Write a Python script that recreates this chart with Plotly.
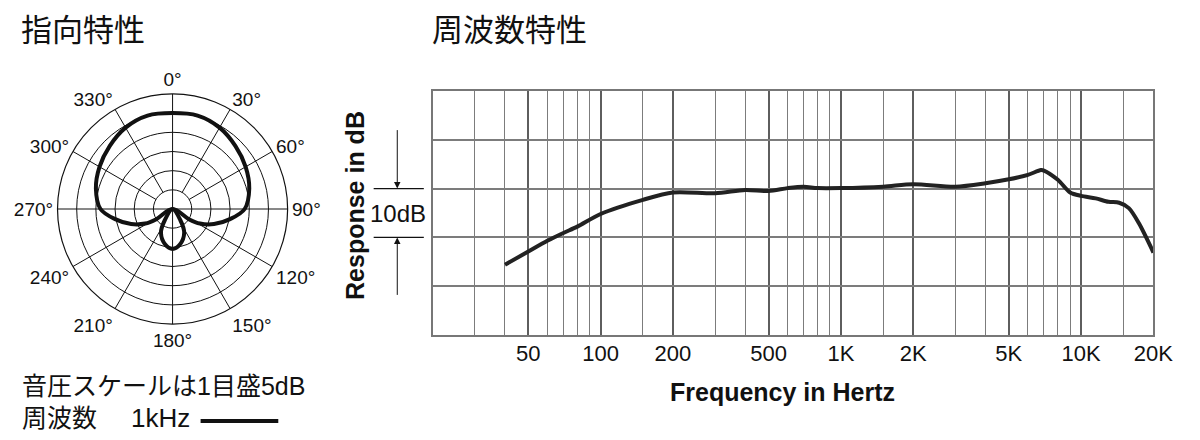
import plotly.graph_objects as go

W, H = 1200, 440

# ---------------- data ----------------
# polar pattern (dB relative to outer ring, 5 dB per ring)
main_angle = [235, 238, 242, 250, 260, 270, 285, 300, 315, 330, 345, 0, 15, 30, 45, 60, 75, 90, 100, 110, 118, 122, 125]
main_db    = [-30, -25, -21.9, -18.5, -14.8, -11.2, -9.3, -8.0, -6.8, -5.5, -4.8, -5.0, -4.8, -5.5, -6.8, -8.0, -9.3, -11.2, -14.8, -18.5, -21.9, -25, -30]
rear_angle = [138, 145, 154, 168, 180, 192, 206, 215, 222]
rear_db    = [-30, -26.5, -23.1, -20.6, -19.6, -20.6, -23.1, -26.5, -30]
angle_ticks = [0, 30, 60, 90, 120, 150, 180, 210, 240, 270, 300, 330]
full_spokes = [0, 90, 180, 270]

# frequency response
freq = [40, 50, 60, 70, 80, 100, 150, 200, 300, 400, 500, 600, 700, 800, 1000, 1500,
        2000, 3000, 4000, 5000, 6000, 6800, 7000, 8000, 9000, 10000, 11500, 13000,
        14400, 15800, 17400, 20000]
resp = [-15.6, -12.9, -10.7, -9.1, -7.8, -5.2, -2.3, -0.8, -0.95, -0.3, -0.5, 0.1, 0.4,
        0.1, 0.1, 0.4, 0.9, 0.4, 1.1, 1.9, 2.8, 3.8, 3.7, 1.8, -0.8, -1.5, -2.0, -2.7,
        -2.9, -4.0, -7.1, -13.1]
major_ticks = [50, 100, 200, 500, 1000, 2000, 5000, 10000, 20000]
major_text = ["50", "100", "200", "500", "1K", "2K", "5K", "10K", "20K"]
minor_ticks = [30, 40, 60, 70, 80, 90, 150, 300, 400, 600, 700, 800, 900, 1500,
               3000, 4000, 6000, 7000, 8000, 9000, 15000]

# ---------------- helpers ----------------
def px(x):
    return x / W

def py(y):
    return 1 - y / H

LAT = "Liberation Sans, Arial, sans-serif"
JP = "Liberation Sans, Noto Sans CJK JP, sans-serif"
JPT = "Noto Sans CJK JP, sans-serif"

fig = go.Figure()

# spokes
sp_r, sp_t = [], []
for a in angle_ticks:
    inner = -30 if a in full_spokes else -25
    sp_r += [inner, 0, None]
    sp_t += [a, a, None]
fig.add_trace(go.Scatterpolar(r=sp_r, theta=sp_t, mode="lines",
                              line=dict(color="#111", width=1), hoverinfo="skip",
                              showlegend=False))
fig.add_trace(go.Scatterpolar(r=main_db, theta=main_angle, mode="lines",
                              line=dict(color="#111", width=4, shape="spline"),
                              showlegend=False))
fig.add_trace(go.Scatterpolar(r=rear_db, theta=rear_angle, mode="lines",
                              line=dict(color="#111", width=4, shape="spline"),
                              showlegend=False))

# frequency response
fig.add_trace(go.Scatter(x=freq, y=resp, mode="lines",
                         line=dict(color="#222", width=4, shape="spline", smoothing=0.8),
                         showlegend=False, xaxis="x", yaxis="y"))

fig.update_layout(
    width=W, height=H, autosize=False,
    margin=dict(l=0, r=0, t=0, b=0),
    paper_bgcolor="white", plot_bgcolor="white",
    polar=dict(
        domain=dict(x=[px(58.5), px(292.5)], y=[py(326), py(92)]),
        bgcolor="white",
        angularaxis=dict(rotation=90, direction="clockwise", tickmode="array",
                         tickvals=angle_ticks, ticktext=[f"{a}°" for a in angle_ticks],
                         showgrid=False, showline=True, linecolor="#111", linewidth=1.2,
                         ticks="", tickfont=dict(family=LAT, size=19, color="#111")),
        radialaxis=dict(range=[-30, 0], tickmode="linear", tick0=-30, dtick=5,
                        showticklabels=False, ticks="", showline=False,
                        gridcolor="#111", gridwidth=1),
    ),
    xaxis=dict(type="log", domain=[px(440), px(1173)],
               range=[1.30103, 4.30103],
               tickmode="array", tickvals=major_ticks, ticktext=major_text,
               showgrid=True, gridcolor="#5e5e5e", gridwidth=2,
               minor=dict(tickmode="array", tickvals=minor_ticks, showgrid=True,
                          gridcolor="#7c7c7c", gridwidth=1, ticks=""),
               ticks="", ticklabelstandoff=-2,
               tickfont=dict(family=LAT, size=22, color="#111"),
               showline=True, mirror=True, linecolor="#777", linewidth=2,
               zeroline=False, fixedrange=True),
    yaxis=dict(domain=[py(335), py(91)], range=[-30, 20], dtick=10, tick0=-30,
               showticklabels=False, ticks="", showgrid=True, gridcolor="#7c7c7c",
               gridwidth=1.5, zeroline=False,
               showline=True, mirror=True, linecolor="#777", linewidth=2,
               fixedrange=True),
)

ann = []
ann.append(dict(text="指向特性", x=px(19), y=py(27), xref="paper", yref="paper",
                xanchor="left", yanchor="middle", showarrow=False,
                font=dict(family=JPT, size=31, color="#111")))
ann.append(dict(text="周波数特性", x=px(437), y=py(27), xref="paper", yref="paper",
                xanchor="left", yanchor="middle", showarrow=False,
                font=dict(family=JPT, size=31, color="#111")))
ann.append(dict(text="音圧スケールは1目盛5dB", x=px(20), y=py(386), xref="paper", yref="paper",
                xanchor="left", yanchor="middle", showarrow=False,
                font=dict(family=JP, size=25, color="#111")))
ann.append(dict(text="周波数", x=px(20), y=py(418), xref="paper", yref="paper",
                xanchor="left", yanchor="middle", showarrow=False,
                font=dict(family=JP, size=25, color="#111")))
ann.append(dict(text="1kHz", x=px(131), y=py(418), xref="paper", yref="paper",
                xanchor="left", yanchor="middle", showarrow=False,
                font=dict(family=LAT, size=26, color="#111")))
ann.append(dict(text="<b>Frequency in Hertz</b>", x=px(796), y=py(392), xref="paper",
                yref="paper", xanchor="center", yanchor="middle", showarrow=False,
                font=dict(family=LAT, size=25, color="#111")))
ann.append(dict(text="<b>Response in dB</b>", x=px(361), y=py(205), xref="paper",
                yref="paper", xanchor="center", yanchor="middle", showarrow=False,
                textangle=-90, font=dict(family=LAT, size=25, color="#111")))
ann.append(dict(text="10dB", x=px(405), y=-5, xref="paper", yref="y",
                xanchor="center", yanchor="middle", showarrow=False,
                font=dict(family=LAT, size=24, color="#111")))
# arrows of the 10 dB bracket
ann.append(dict(text="", x=px(404), y=0, xref="paper", yref="y", ax=0, ay=-60,
                showarrow=True, arrowhead=2, arrowsize=1.3, arrowwidth=1,
                arrowcolor="#111", standoff=0))
ann.append(dict(text="", x=px(404), y=-10, xref="paper", yref="y", ax=0, ay=59,
                showarrow=True, arrowhead=2, arrowsize=1.3, arrowwidth=1,
                arrowcolor="#111", standoff=0))
fig.update_layout(annotations=ann)

shapes = [
    dict(type="line", xref="paper", yref="y", x0=px(380), x1=px(431), y0=0, y1=0,
         line=dict(color="#111", width=1.2)),
    dict(type="line", xref="paper", yref="y", x0=px(380), x1=px(431), y0=-10, y1=-10,
         line=dict(color="#111", width=1.2)),
    dict(type="line", xref="paper", yref="paper", x0=px(204), x1=px(283),
         y0=py(421), y1=py(421), line=dict(color="#111", width=4)),
]
fig.update_layout(shapes=shapes)

fig.write_html("out.html",
               config={"responsive": False, "displayModeBar": False},
               post_script="document.body.style.margin='0';document.body.style.overflow='hidden';")
